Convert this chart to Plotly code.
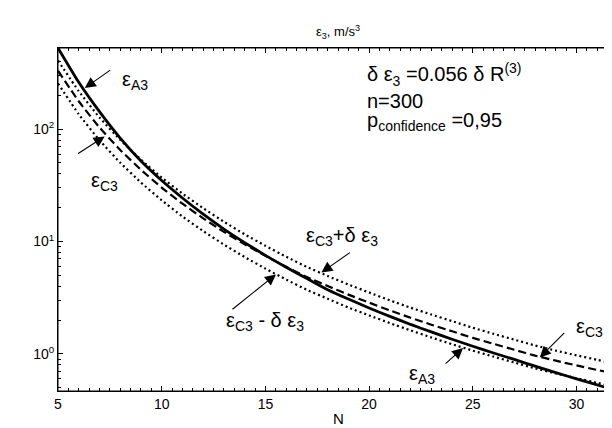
import plotly.graph_objects as go
import math

# ---- data ----
N = list(range(5, 33))
eps_A3 = [527, 261, 143, 83.2, 52.0, 34.9, 24.4, 17.5, 12.9, 9.77,
          7.53, 5.90, 4.69, 3.73, 3.08, 2.56, 2.16, 1.83, 1.57, 1.35,
          1.17, 1.02, 0.893, 0.778, 0.682, 0.600, 0.530, 0.470]
eps_C3 = [331, 177, 103.5, 65.3, 43.5, 30.2, 21.7, 16.1, 12.2, 9.46,
          7.45, 5.96, 4.83, 4.02, 3.37, 2.86, 2.44, 2.10, 1.82, 1.59,
          1.39, 1.23, 1.09, 0.966, 0.871, 0.790, 0.720, 0.656]
eps_C3_plus = [407, 218, 127, 80.3, 53.5, 37.1, 26.7, 19.8, 15.0, 11.6,
               9.16, 7.33, 5.94, 4.94, 4.15, 3.52, 3.00, 2.58, 2.24, 1.96,
               1.71, 1.51, 1.34, 1.19, 1.07, 0.972, 0.886, 0.807]
eps_C3_minus = [255, 136, 79.7, 50.3, 33.5, 23.3, 16.7, 12.4, 9.39, 7.28,
                5.74, 4.59, 3.72, 3.10, 2.59, 2.20, 1.88, 1.62, 1.40, 1.22,
                1.07, 0.947, 0.839, 0.744, 0.671, 0.608, 0.554, 0.505]

x_ticks = [5, 10, 15, 20, 25, 30]
y_ticks = [1, 10, 100]
y_ticktext = ["10<sup>0</sup>", "10<sup>1</sup>", "10<sup>2</sup>"]
y_minor = [0.5, 0.6, 0.7, 0.8, 0.9, 2, 3, 4, 5, 6, 7, 8, 9,
           20, 30, 40, 50, 60, 70, 80, 90, 200, 300, 400, 500]

FONT = "Liberation Sans, Arial, Helvetica, sans-serif"

fig = go.Figure()
dot = dict(color="black", width=2.2, dash="2px,3px", shape="spline", smoothing=0.5)
fig.add_trace(go.Scatter(x=N, y=eps_C3_plus, mode="lines", line=dot))
fig.add_trace(go.Scatter(x=N, y=eps_C3_minus, mode="lines", line=dot))
fig.add_trace(go.Scatter(x=N, y=eps_C3, mode="lines",
                         line=dict(color="black", width=2.2, dash="8px,4px", shape="spline", smoothing=0.5)))
fig.add_trace(go.Scatter(x=N, y=eps_A3, mode="lines",
                         line=dict(color="black", width=2.8, shape="spline", smoothing=0.5)))

L, R, T, B = 50, 2, 40, 45
W, H = 612, 428
PW, PH = W - L - R, H - T - B


def px(xp, yp):
    return (xp - L) / PW, (H - B - yp) / PH


annots = []


def label(text, xp, yp, size=20, xanchor="left"):
    x, y = px(xp, yp)
    annots.append(dict(text=text, x=x, y=y, xref="paper", yref="paper",
                       xanchor=xanchor, yanchor="middle", showarrow=False,
                       font=dict(family=FONT, size=size, color="black")))


def arrow(xd, yd, ax, ay):
    annots.append(dict(text="", x=xd, y=math.log10(yd), xref="x", yref="y",
                       ax=ax, ay=ay, showarrow=True, arrowhead=2, arrowsize=2.0,
                       arrowwidth=1.1, arrowcolor="black"))


# title and axis label
label("ε<sub>3</sub>, m/s<sup>3</sup>", 330, 24, size=13, xanchor="center")
label("N", 330, 410, size=15, xanchor="center")

# info block
label("δ ε<sub>3</sub> =0.056 δ R<sup>(3)</sup>", 357, 66, size=20)
label("n=300", 357, 93, size=20)
label("p<sub>confidence</sub> =0,95", 357, 114, size=20)

# curve labels
label("ε<sub>A3</sub>", 112, 72)
label("ε<sub>C3</sub>", 81, 173)
label("ε<sub>C3</sub>+δ ε<sub>3</sub>", 296, 228)
label("ε<sub>C3</sub> - δ ε<sub>3</sub>", 216, 313)
label("ε<sub>C3</sub>", 566, 319)
label("ε<sub>A3</sub>", 399, 366)

# arrows (tip on curve, tail as pixel offset)
arrow(6.29, 232, 27, -19)
arrow(7.25, 86, -28, 18)
arrow(17.70, 5.3, 30, -21)
arrow(15.51, 5.1, -45, 36)
arrow(28.23, 0.93, 26, -26)
arrow(24.53, 1.13, -19, 17)

axis_common = dict(ticks="inside", ticklen=5, tickcolor="black", showline=True,
                   linecolor="black", linewidth=1, mirror="allticks",
                   showgrid=False, zeroline=False, tickfont=dict(size=14))

fig.update_layout(
    width=W, height=H,
    margin=dict(l=L, r=R, t=T, b=B, pad=0),
    paper_bgcolor="white", plot_bgcolor="white",
    showlegend=False,
    font=dict(family=FONT, size=14, color="black"),
    annotations=annots,
    shapes=[dict(type="rect", xref="paper", yref="paper", x0=0, y0=0, x1=1, y1=1,
                 line=dict(color="black", width=1), layer="above")],
    xaxis=dict(range=[5, 32], tickvals=x_ticks, **axis_common,
               minor=dict(dtick=0.5, ticks="inside", ticklen=3, tickcolor="black", showgrid=False)),
    yaxis=dict(type="log", range=[math.log10(0.468), math.log10(527)],
               tickvals=y_ticks, ticktext=y_ticktext, **axis_common,
               minor=dict(tickvals=y_minor, ticks="inside", ticklen=3, tickcolor="black", showgrid=False)),
)

fig.write_html("out.html")
